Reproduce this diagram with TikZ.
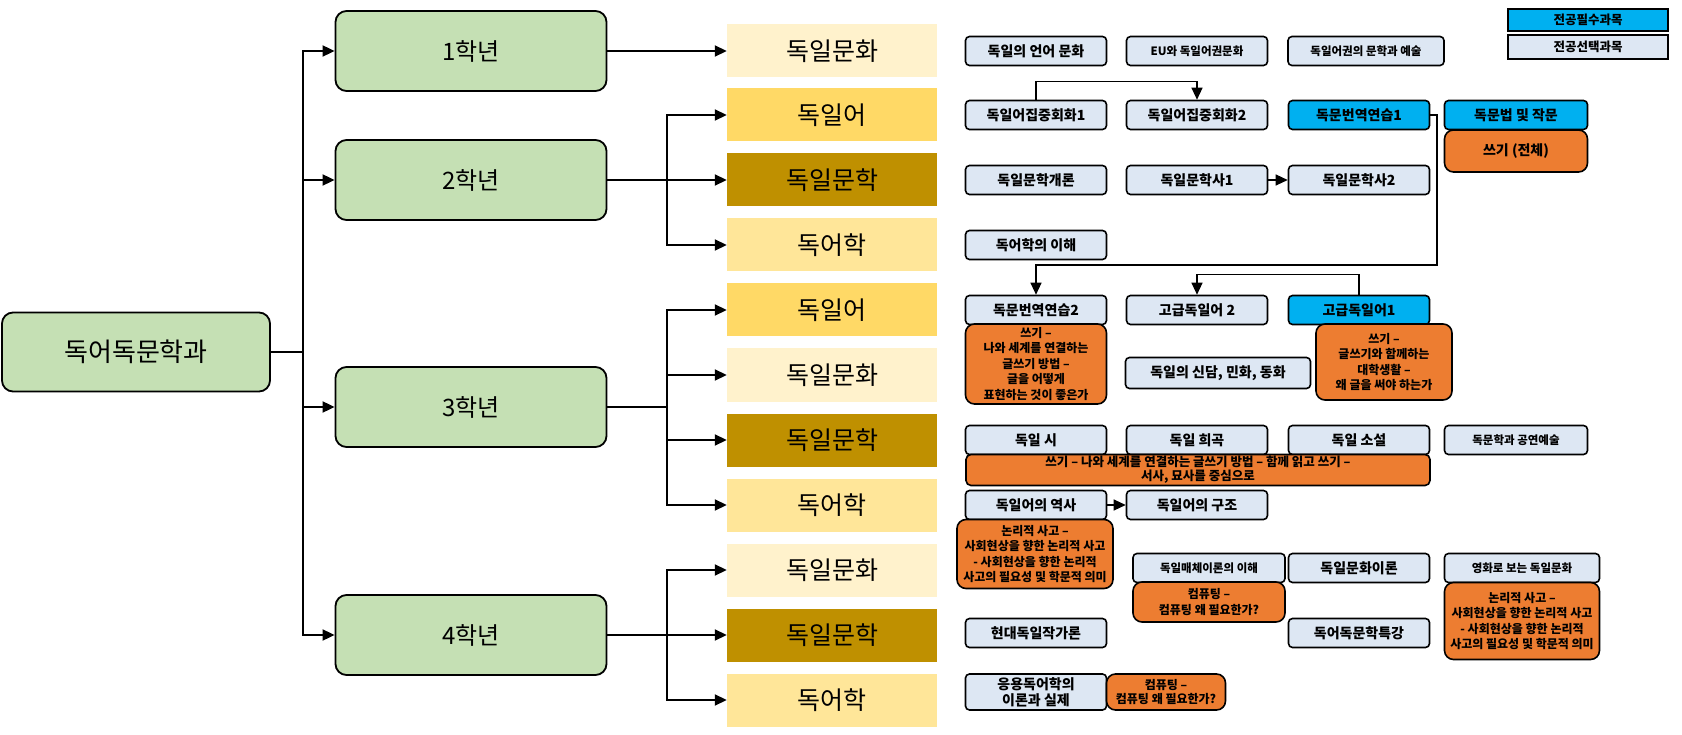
\documentclass[tikz,border=0pt]{standalone}
\usepackage{fontspec}
\setmainfont{Noto Sans CJK KR}
\usetikzlibrary{arrows.meta,positioning}
\definecolor{ygreen}{RGB}{197,224,180}
\definecolor{ccult}{RGB}{255,242,204}
\definecolor{clang}{RGB}{255,217,102}
\definecolor{clit}{RGB}{191,144,0}
\definecolor{cling}{RGB}{255,230,153}
\definecolor{celect}{RGB}{221,231,243}
\definecolor{creq}{RGB}{0,176,240}
\definecolor{cwrite}{RGB}{237,125,49}
\tikzset{
  ybox/.style={draw, line width=1.8pt, rounded corners=11pt, fill=ygreen,
    minimum width=271pt, minimum height=80pt, font=\fontsize{24}{27}\selectfont},
  catbox/.style={minimum width=210pt, minimum height=53pt, inner sep=0pt,
    font=\fontsize{25}{28}\selectfont},
  sel/.style={draw, line width=1.6pt, rounded corners=4pt, fill=celect, inner sep=1pt,
    minimum width=141pt, minimum height=29pt, font=\bfseries\fontsize{14}{16}\selectfont},
  req/.style={sel, fill=creq},
  small/.style={font=\bfseries\fontsize{11.5}{13}\selectfont},
  wr/.style={draw, line width=1.6pt, rounded corners=9pt, fill=cwrite, align=center,
    inner sep=0pt, font=\bfseries\fontsize{12}{15.5}\selectfont},
  legbox/.style={draw, line width=1.8pt, minimum width=160pt, inner sep=0pt,
    font=\bfseries\fontsize{12.5}{14}\selectfont},
  arr/.style={-{Triangle[length=12pt,width=11pt]}, line width=1.8pt},
  carr/.style={-{Triangle[length=12pt,width=11pt]}, line width=1.2pt},
}
\begin{document}
\begin{tikzpicture}[x=1pt, y=-1pt]
  \useasboundingbox (0,0) rectangle (1682,735);
  % years
  \node[ybox, minimum width=268pt, minimum height=79pt, font=\fontsize{26}{29}\selectfont] (dept) at (136,352) {독어독문학과};
  \node[ybox] (y1) at (471,51) {1학년};
  \node[ybox] (y2) at (471,180) {2학년};
  \node[ybox] (y3) at (471,407) {3학년};
  \node[ybox] (y4) at (471,635) {4학년};
  % fields
  \node[catbox, fill=ccult] (c1) at (832,51) {독일문화};
  \node[catbox, fill=clang] (c2a) at (832,115) {독일어};
  \node[catbox, fill=clit] (c2b) at (832,180) {독일문학};
  \node[catbox, fill=cling] (c2c) at (832,245) {독어학};
  \node[catbox, fill=clang] (c3a) at (832,310) {독일어};
  \node[catbox, fill=ccult] (c3b) at (832,375) {독일문화};
  \node[catbox, fill=clit] (c3c) at (832,440) {독일문학};
  \node[catbox, fill=cling] (c3d) at (832,505) {독어학};
  \node[catbox, fill=ccult] (c4a) at (832,570) {독일문화};
  \node[catbox, fill=clit] (c4b) at (832,635) {독일문학};
  \node[catbox, fill=cling] (c4c) at (832,700) {독어학};
  \coordinate (trunk) at (303,352);
  \coordinate (s2) at (667,180);
  \coordinate (s3) at (667,407);
  \coordinate (s4) at (667,635);
  \foreach \y in {y1,y2,y3,y4} \draw[arr] (dept.east) -- (trunk) |- (\y.west);
  \draw[arr] (y1.east) -- (c1.west);
  \foreach \c in {c2a,c2b,c2c} \draw[arr] (y2.east) -- (s2) |- (\c.west);
  \foreach \c in {c3a,c3b,c3c,c3d} \draw[arr] (y3.east) -- (s3) |- (\c.west);
  \foreach \c in {c4a,c4b,c4c} \draw[arr] (y4.east) -- (s4) |- (\c.west);
  % legend
  \node[legbox, fill=creq, minimum height=22pt] (lgreq) at (1588,20) {전공필수과목};
  \node[legbox, fill=celect, minimum height=24pt] (lgsel) at (1588,47) {전공선택과목};
  % 1st year
  \node[sel] (a1) at (1036,51) {독일의 언어 문화};
  \node[sel, small] (a2) at (1197,51) {EU와 독일어권문화};
  \node[sel, small, minimum width=156pt] (a3) at (1366,51) {독일어권의 문학과 예술};
  % 2nd year
  \node[sel] (b1) at (1036,115) {독일어집중회화1};
  \node[sel] (b2) at (1197,115) {독일어집중회화2};
  \node[req] (b3) at (1359,115) {독문번역연습1};
  \node[req, minimum width=143pt] (b4) at (1516,115) {독문법 및 작문};
  \node[wr, minimum width=143pt, minimum height=42pt, font=\bfseries\fontsize{14}{16}\selectfont] (b5) at (1516,151) {쓰기 (전체)};
  \node[sel] (l1) at (1036,180) {독일문학개론};
  \node[sel] (l2) at (1197,180) {독일문학사1};
  \node[sel] (l3) at (1359,180) {독일문학사2};
  \node[sel] (g1) at (1036,245) {독어학의 이해};
  \draw[carr] (b1.north) -- ++(0,-18) -| (b2.north);
  \draw[carr] (l2.east) -- (l3.west);
  % 3rd year
  \node[sel] (e1) at (1036,310) {독문번역연습2};
  \node[sel] (e2) at (1197,310) {고급독일어 2};
  \node[req] (e3) at (1359,310) {고급독일어1};
  \node[wr, minimum width=141pt, minimum height=80pt] (w1) at (1036,364)
    {쓰기 –\\나와 세계를 연결하는\\글쓰기 방법 –\\글을 어떻게\\표현하는 것이 좋은가};
  \node[wr, minimum width=136pt, minimum height=76pt] (w2) at (1384,362)
    {쓰기 –\\글쓰기와 함께하는\\대학생활 –\\왜 글을 써야 하는가};
  \node[sel, minimum width=185pt, minimum height=31pt] (f1) at (1218,373) {독일의 신담, 민화, 동화};
  \node[sel] (p1) at (1036,440) {독일 시};
  \node[sel] (p2) at (1197,440) {독일 희곡};
  \node[sel] (p3) at (1359,440) {독일 소설};
  \node[sel, small, minimum width=143pt] (p4) at (1516,440) {독문학과 공연예술};
  \node[wr, rounded corners=5pt, minimum width=464pt, minimum height=31pt,
    font=\bfseries\fontsize{12.5}{14}\selectfont] (w3) at (1198,470)
    {쓰기 – 나와 세계를 연결하는 글쓰기 방법 – 함께 읽고 쓰기 –\\서사, 묘사를 중심으로};
  \node[sel] (h1) at (1036,505) {독일어의 역사};
  \node[sel] (h2) at (1197,505) {독일어의 구조};
  \node[wr, minimum width=156pt, minimum height=69pt] (w4) at (1035,554)
    {논리적 사고 –\\사회현상을 향한 논리적 사고\\- 사회현상을 향한 논리적\\사고의 필요성 및 학문적 의미};
  \coordinate (tr1) at (1437,265);
  \draw[carr] (b3.east) -| (tr1) -| (e1.north);
  \draw[carr] (e3.north) -- ++(0,-20) -| (e2.north);
  \draw[carr] (h1.east) -- (h2.west);
  % 4th year
  \node[sel, small, minimum width=152pt] (i1) at (1209,568) {독일매체이론의 이해};
  \node[sel] (i2) at (1359,568) {독일문화이론};
  \node[sel, small, minimum width=155pt] (i3) at (1522,568) {영화로 보는 독일문화};
  \node[wr, minimum width=152pt, minimum height=40pt] (w5) at (1209,602)
    {컴퓨팅 –\\컴퓨팅 왜 필요한가?};
  \node[wr, minimum width=155pt, minimum height=77pt] (w6) at (1522,621)
    {논리적 사고 –\\사회현상을 향한 논리적 사고\\- 사회현상을 향한 논리적\\사고의 필요성 및 학문적 의미};
  \node[sel] (j1) at (1036,633) {현대독일작가론};
  \node[sel] (j2) at (1359,633) {독어독문학특강};
  \node[sel, minimum height=36pt, align=center, font=\bfseries\fontsize{14}{16}\selectfont] (k1) at (1036,692) {응용독어학의\\이론과 실제};
  \node[wr, minimum width=119pt, minimum height=36pt, font=\bfseries\fontsize{12}{14}\selectfont] (k2) at (1166,692)
    {컴퓨팅 –\\컴퓨팅 왜 필요한가?};
\end{tikzpicture}
\end{document}
